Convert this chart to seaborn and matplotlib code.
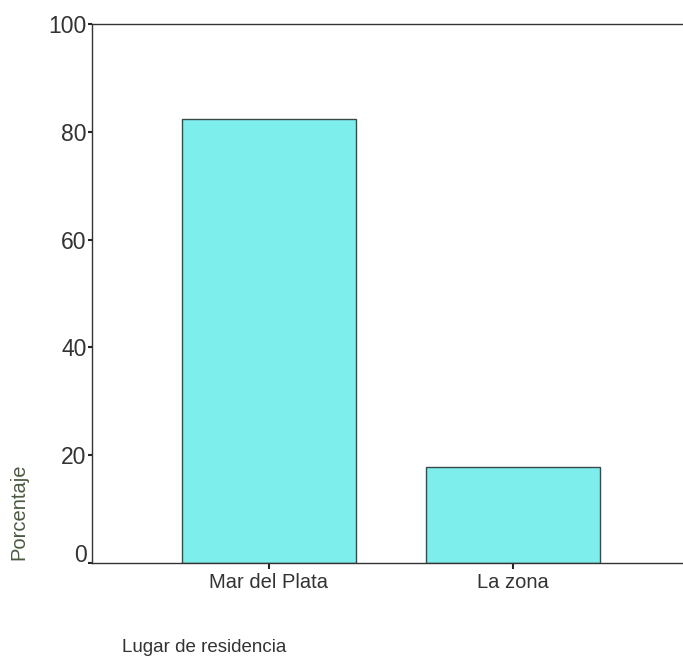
import matplotlib
matplotlib.use("Agg")
import matplotlib.pyplot as plt
import matplotlib.transforms as mtransforms
import seaborn as sns
import pandas as pd

# data
categories = ["Mar del Plata", "La zona"]
percentages = [82.3, 17.8]
y_ticks = [0, 20, 40, 60, 80, 100]

df = pd.DataFrame({"lugar": categories, "pct": percentages})

sns.set_style("white")
plt.rcParams["font.family"] = ["Liberation Sans", "DejaVu Sans"]

W, H = 683, 659
fig = plt.figure(figsize=(W / 100, H / 100), dpi=100)
# axes box in pixels: left 92, top 24, bottom 563, right beyond the image
left, top, bottom = 92, 24, 563
right = 690
ax = fig.add_axes([left / W, 1 - bottom / H, (right - left) / W, (bottom - top) / H])

sns.barplot(data=df, x="lugar", y="pct", ax=ax, color="#7eeeed",
            saturation=1, width=0.71, edgecolor="#3a4a48", linewidth=1.0)

ax.set_xlim(-0.725, 1.725)
ax.set_ylim(0, 100)
ax.set_yticks(y_ticks)
ax.set_yticklabels([str(t) for t in y_ticks], fontsize=16.5, color="#333333")
ax.tick_params(axis="x", labelsize=14.5, labelcolor="#333333", length=4,
               width=1.5, direction="out", pad=3, bottom=True)
ax.tick_params(axis="y", length=3, width=1.5, direction="out", pad=1, left=True)

# the "0" label sits a little above its tick in the original
lab0 = ax.get_yticklabels()[0]
lab0.set_transform(lab0.get_transform() +
                   mtransforms.ScaledTranslation(0, 10 / 100, fig.dpi_scale_trans))

for s in ax.spines.values():
    s.set_color("#333333")
    s.set_linewidth(1.0)
ax.spines["right"].set_visible(False)

ax.set_xlabel("")
ax.set_ylabel("")
fig.text(19 / W, 1 - 512 / H, "Porcentaje", rotation=90, fontsize=14.5,
         color="#4a5a40", ha="center", va="center")
fig.text(122 / W, 1 - 648 / H, "Lugar de residencia", fontsize=13.5,
         color="#333333", ha="left", va="center")

fig.savefig("out.png", dpi=100)
